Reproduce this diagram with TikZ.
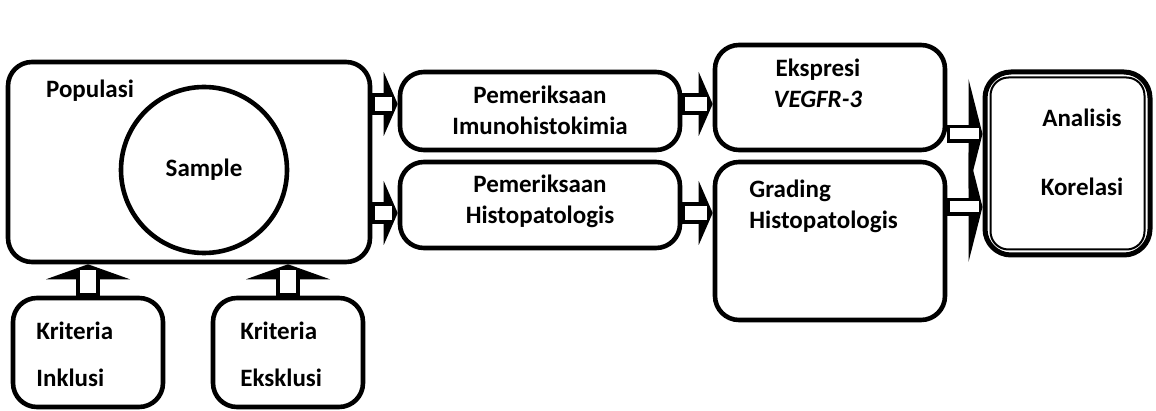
\documentclass[tikz,border=0pt]{standalone}
\usepackage{fontspec}
\setmainfont{Carlito}
\usetikzlibrary{arrows.meta,calc}
\begin{document}
\begin{tikzpicture}[x=0.5pt,y=-0.5pt,
  box/.style={draw, line width=2.3pt, rounded corners=12pt, inner sep=0pt},
  txt/.style={font=\fontsize{12.5}{15.5}\selectfont\bfseries, inner sep=0pt},
  barrow/.style={line width=11pt, -{Triangle[length=7pt,width=32pt,line width=0pt]},
     postaction={draw=white, line width=7pt, -, shorten >=3pt, shorten <=1.3pt}},
  uarrow/.style={line width=12pt, -{Triangle[length=7.5pt,width=42pt,line width=0pt]},
     postaction={draw=white, line width=8pt, -, shorten >=3pt, shorten <=1.3pt}},
  rarrow/.style={line width=9pt, -{Triangle[length=7pt,width=55pt,line width=0pt]},
     postaction={draw=white, line width=5.5pt, -, shorten >=2pt, shorten <=1.3pt}}
]
\useasboundingbox (0,0) rectangle (1156,411);
% boxes
\node[box, minimum width=181pt, minimum height=100pt] (pop) at (189,162) {};
\node[txt] (poplbl) at (90,91) {Populasi};
\node[draw, circle, line width=2.3pt, minimum size=83pt, inner sep=0pt, txt] (sample) at (204,170) {Sample};

\node[box, minimum width=140pt, minimum height=39pt] (imuno) at (540,111) {};
\node[txt, align=center] (imunot) at (540,110) {Pemeriksaan\\Imunohistokimia};

\node[box, minimum width=140pt, minimum height=43pt] (histo) at (540,205) {};
\node[txt, align=center] (histot) at (540,201) {Pemeriksaan\\Histopatologis};

\node[box, minimum width=115pt, minimum height=52.5pt] (eksp) at (830,97.5) {};
\node[txt, align=center] (ekspt) at (818,83) {Ekspresi\\\textit{VEGFR-3}};

\node[box, minimum width=115pt, minimum height=79pt] (grad) at (830,241) {};
\node[txt, align=left, anchor=west] (gradt) at (749,206) {Grading\\Histopatologis};

\node[box, line width=2.5pt, rounded corners=13pt, minimum width=82.5pt, minimum height=91.5pt] (anal) at (1067.5,163.5) {};
\draw[line width=1pt, rounded corners=9pt] ($(anal.north west)+(8,8)$) rectangle ($(anal.south east)+(-8,-8)$);
\node[txt] (anal1) at (1082,118) {Analisis};
\node[txt] (anal2) at (1082,187) {Korelasi};

\node[box, minimum width=75pt, minimum height=54.5pt] (inkl) at (88,352.5) {};
\node[txt, align=left, anchor=west] (inklt) at (36,354) {Kriteria\\[8pt]Inklusi};

\node[box, minimum width=75pt, minimum height=54.5pt] (eksk) at (288,352.5) {};
\node[txt, align=left, anchor=west] (ekskt) at (240,354) {Kriteria\\[8pt]Eksklusi};

% connectors
\coordinate (a1) at (380,104);
\coordinate (a2) at (380,213);
\draw[barrow] (pop.east |- a1) -- (imuno.west |- a1);
\draw[barrow] (pop.east |- a2) -- (histo.west |- a2);
\draw[barrow] (imuno.east |- a1) -- (eksp.west |- a1);
\draw[barrow] (histo.east |- a2) -- (grad.west |- a2);
\draw[uarrow] (inkl.north) -- (inkl.north |- pop.south);
\draw[uarrow] (eksk.north) -- (eksk.north |- pop.south);
\coordinate (r1) at (960,134);
\coordinate (r2) at (960,207);
\draw[rarrow] (eksp.east |- r1) -- (anal.west |- r1);
\draw[rarrow] (grad.east |- r2) -- (anal.west |- r2);
\end{tikzpicture}
\end{document}
